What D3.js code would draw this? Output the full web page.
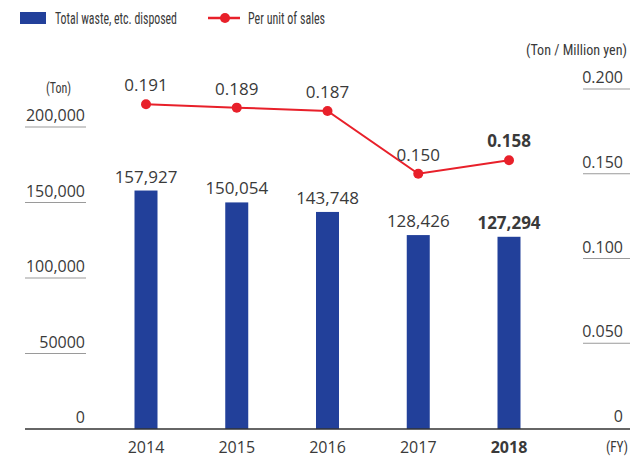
<!DOCTYPE html>
<html>
<head>
<meta charset="utf-8">
<script src="https://cdn.jsdelivr.net/npm/d3@7"></script>
<style>
  body { margin: 0; background: #fff; }
  svg { display: block; }
  .num { font-family: "Open Sans", "Noto Sans", sans-serif; fill: #3a3a3a; }
  .cond { font-family: "Liberation Sans Narrow", "Roboto Condensed", "Liberation Sans", sans-serif; fill: #3a3a3a; }
</style>
</head>
<body>
<svg width="633" height="459"></svg>
<script>
var years = ["2014", "2015", "2016", "2017", "2018"];
var waste = [157927, 150054, 143748, 128426, 127294];
var perSales = [0.191, 0.189, 0.187, 0.150, 0.158];
var leftTicks = [0, 50000, 100000, 150000, 200000];
var leftTickLabels = ["0", "50000", "100,000", "150,000", "200,000"];
var rightTicks = [0, 0.05, 0.1, 0.15, 0.2];
var rightTickLabels = ["0", "0.050", "0.100", "0.150", "0.200"];

var svg = d3.select("svg");
var barColor = "#22409a", lineColor = "#e8202a";

var x = d3.scalePoint().domain(years).range([146, 509]);
var yL = d3.scaleLinear().domain([0, 200000]).range([429, 127]);
var yR = d3.scaleLinear().domain([0, 0.2]).range([428, 89]);

// condensed label, squeezed to the width seen in the original
function condText(tx, ty, anchor, width, s, size) {
    return svg.append("text").attr("class", "cond")
        .attr("x", tx).attr("y", ty)
        .attr("text-anchor", anchor).attr("font-size", size || 15)
        .attr("textLength", width).attr("lengthAdjust", "spacingAndGlyphs")
        .text(s);
}

// left axis ticks (underlined labels)
leftTicks.forEach(function (t, i) {
    if (t > 0) {
        svg.append("line").attr("x1", 25).attr("x2", 86)
            .attr("y1", yL(t)).attr("y2", yL(t))
            .attr("stroke", "#9a9a9a").attr("stroke-width", 1.2);
    }
    svg.append("text").attr("class", "num")
        .attr("x", 85).attr("y", yL(t) - 6)
        .attr("text-anchor", "end").attr("font-size", 16)
        .text(leftTickLabels[i]);
});

// right axis ticks
rightTicks.forEach(function (t, i) {
    if (t > 0) {
        svg.append("line").attr("x1", 583).attr("x2", 630)
            .attr("y1", yR(t)).attr("y2", yR(t))
            .attr("stroke", "#9a9a9a").attr("stroke-width", 1.2);
    }
    svg.append("text").attr("class", "num")
        .attr("x", 623).attr("y", yR(t) - 6)
        .attr("text-anchor", "end").attr("font-size", 16)
        .text(rightTickLabels[i]);
});

// unit labels
condText(71, 93, "end", 25, "(Ton)");
condText(627, 55, "end", 101, "(Ton / Million yen)");
condText(628, 452, "end", 22, "(FY)");

// bars
svg.selectAll(".bar").data(waste).enter().append("rect")
    .attr("class", "bar")
    .attr("x", function (d, i) { return x(years[i]) - 11.5; })
    .attr("width", 23)
    .attr("y", function (d) { return yL(d); })
    .attr("height", function (d) { return yL(0) - yL(d); })
    .attr("fill", barColor);

svg.selectAll(".barlabel").data(waste).enter().append("text")
    .attr("class", "num")
    .attr("x", function (d, i) { return x(years[i]); })
    .attr("y", function (d) { return yL(d) - 8; })
    .attr("text-anchor", "middle").attr("font-size", 17)
    .attr("font-weight", function (d, i) { return i == 4 ? "bold" : "normal"; })
    .text(function (d) { return d3.format(",")(d); });

// baseline
svg.append("line").attr("x1", 25).attr("x2", 630)
    .attr("y1", 429).attr("y2", 429)
    .attr("stroke", "#333").attr("stroke-width", 1.5);

// year labels
svg.selectAll(".year").data(years).enter().append("text")
    .attr("class", "num")
    .attr("x", function (d) { return x(d); })
    .attr("y", 453)
    .attr("text-anchor", "middle").attr("font-size", 16)
    .attr("font-weight", function (d, i) { return i == 4 ? "bold" : "normal"; })
    .text(function (d) { return d; });

// line
var line = d3.line()
    .x(function (d, i) { return x(years[i]); })
    .y(function (d) { return yR(d); });

svg.append("path").datum(perSales)
    .attr("fill", "none").attr("stroke", lineColor)
    .attr("stroke-width", 2).attr("d", line);

svg.selectAll(".dot").data(perSales).enter().append("circle")
    .attr("cx", function (d, i) { return x(years[i]); })
    .attr("cy", function (d) { return yR(d); })
    .attr("r", 5).attr("fill", lineColor);

svg.selectAll(".dotlabel").data(perSales).enter().append("text")
    .attr("class", "num")
    .attr("x", function (d, i) { return x(years[i]); })
    .attr("y", function (d) { return yR(d) - 13; })
    .attr("text-anchor", "middle").attr("font-size", 17)
    .attr("font-weight", function (d, i) { return i == 4 ? "bold" : "normal"; })
    .text(function (d) { return d3.format(".3f")(d); });

// legend
svg.append("rect").attr("x", 20).attr("y", 12).attr("width", 26).attr("height", 12)
    .attr("fill", barColor);
condText(55, 24, "start", 122, "Total waste, etc. disposed", 16.5);
svg.append("line").attr("x1", 208).attr("x2", 240).attr("y1", 18).attr("y2", 18)
    .attr("stroke", lineColor).attr("stroke-width", 2.5);
svg.append("circle").attr("cx", 225).attr("cy", 18).attr("r", 5).attr("fill", lineColor);
condText(248, 24, "start", 77, "Per unit of sales", 16.5);
</script>
</body>
</html>
